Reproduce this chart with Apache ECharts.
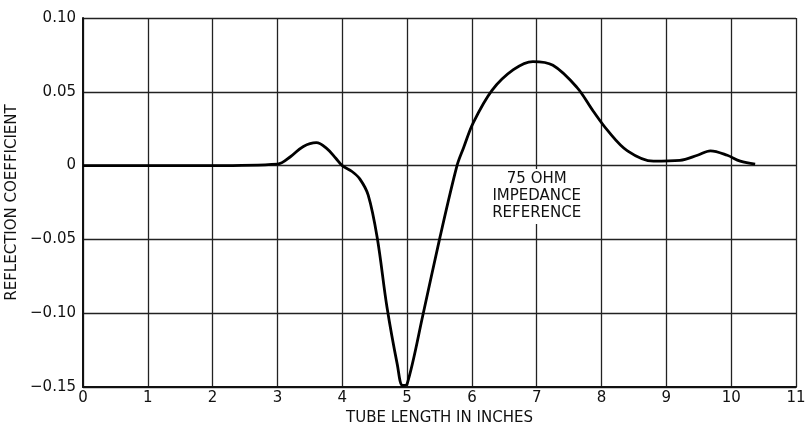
<!DOCTYPE html>
<html>
<head>
<meta charset="utf-8">
<script src="https://cdn.jsdelivr.net/npm/echarts@6/dist/echarts.min.js"></script>
<style>
  html, body { margin: 0; padding: 0; background: #fff; }
  #chart { width: 805px; height: 425px; }
</style>
</head>
<body>
<div id="chart"></div>
<script>
// tube length (inches) and reflection coefficient
const tubeLength = [0, 1, 2, 3, 3.2, 3.4, 3.6, 3.75, 3.9, 4.0, 4.15, 4.27, 4.4, 4.54, 4.69, 4.85, 4.93, 5.0,
  5.25, 5.5, 5.77, 5.87, 6.02, 6.31, 6.64, 6.94, 7.25, 7.62, 7.87, 8.09, 8.4, 8.8, 9.21, 9.48, 9.68, 9.94, 10.14, 10.37];
const reflection = [0, 0, 0, 0.001, 0.006, 0.013, 0.0155, 0.012, 0.005, 0, -0.004, -0.009, -0.020, -0.049, -0.096, -0.135, -0.149, -0.148,
  -0.10, -0.05, 0, 0.012, 0.029, 0.051, 0.065, 0.0705, 0.068, 0.053, 0.037, 0.024, 0.010, 0.003, 0.0035, 0.007, 0.010, 0.007, 0.003, 0.001];
const noteText = '75 OHM\nIMPEDANCE\nREFERENCE';
const notePos = [7, -0.021];

const font = '"DejaVu Sans", sans-serif';
const chart = echarts.init(document.getElementById('chart'));

chart.setOption({
  backgroundColor: '#fff',
  animation: false,
  grid: { left: 83, right: 9, top: 18, bottom: 38, outerBoundsMode: 'none', containLabel: false },
  xAxis: {
    type: 'value',
    min: 0, max: 11, interval: 1,
    name: 'TUBE LENGTH IN INCHES',
    nameLocation: 'middle',
    nameGap: 24,
    nameTextStyle: { color: '#111', fontSize: 15, fontFamily: font },
    axisLine: { show: true, onZero: false, lineStyle: { color: '#111', width: 2 } },
    axisTick: { show: false },
    axisLabel: { color: '#111', fontSize: 15, margin: 4, fontFamily: font },
    splitLine: { show: true, lineStyle: { color: '#222', width: 1.3 } }
  },
  yAxis: {
    type: 'value',
    min: -0.15, max: 0.1, interval: 0.05,
    name: 'REFLECTION COEFFICIENT',
    nameLocation: 'middle',
    nameGap: 57,
    nameTextStyle: { color: '#111', fontSize: 15, fontFamily: font },
    axisLine: { show: true, lineStyle: { color: '#111', width: 2 } },
    axisTick: { show: false },
    axisLabel: {
      color: '#111', fontSize: 15, margin: 7, fontFamily: font,
      formatter: function (v) {
        if (Math.abs(v) < 1e-9) return '0';
        return (v < 0 ? '\u22120' : '0') + Math.abs(v).toFixed(2).slice(1);
      }
    },
    splitLine: { show: true, lineStyle: { color: '#222', width: 1.3 } }
  },
  series: [{
    type: 'line',
    data: tubeLength.map((x, i) => [x, reflection[i]]),
    smooth: 0.35,
    showSymbol: false,
    lineStyle: { color: '#000', width: 2.8 },
    markPoint: {
      symbol: 'rect',
      symbolSize: 0,
      silent: true,
      label: {
        show: true,
        position: 'inside',
        formatter: noteText,
        color: '#111',
        fontSize: 15,
        lineHeight: 17,
        fontFamily: font,
        align: 'center',
        backgroundColor: '#fff',
        padding: [2, 3]
      },
      data: [{ coord: notePos }]
    }
  }]
});
</script>
</body>
</html>
